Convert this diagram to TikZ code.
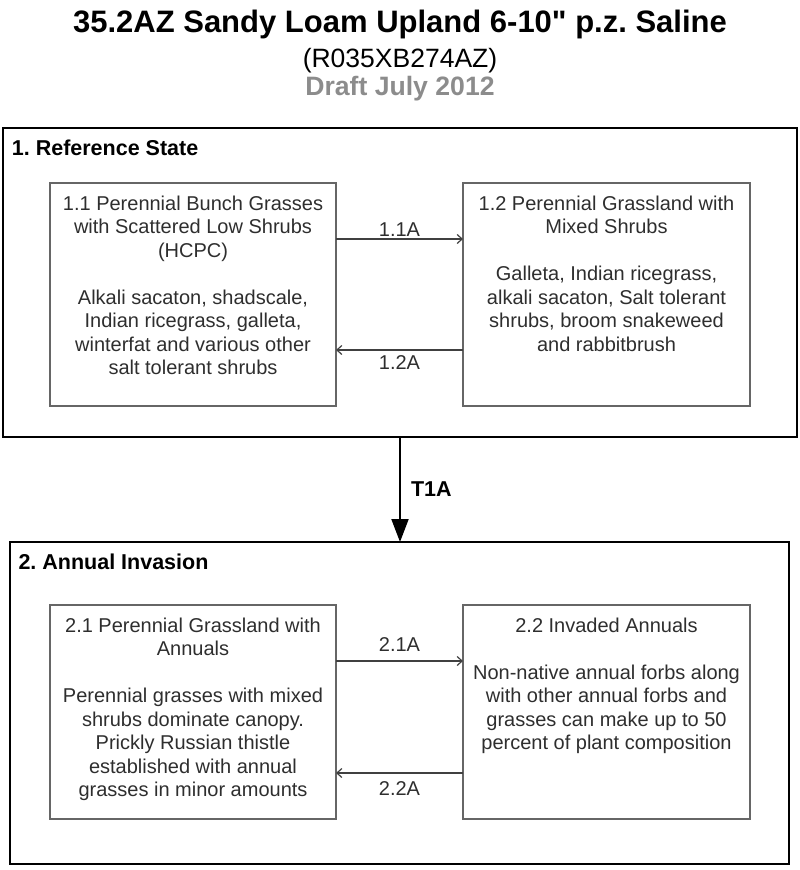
\documentclass[tikz,border=0pt]{standalone}
\usepackage{fontspec}
\setmainfont{Liberation Sans}[Ligatures=TeXOff]
\usetikzlibrary{arrows.meta}
\definecolor{boxgray}{HTML}{666666}
\definecolor{txtgray}{HTML}{2E2E2E}
\definecolor{arrgray}{HTML}{404040}
\definecolor{draftgray}{HTML}{8C8C8C}
\begin{document}
\frenchspacing
\begin{tikzpicture}[x=1pt,y=-1pt,
  outerbox/.style={draw=black,line width=2.5pt,inner sep=0pt,outer sep=0pt},
  innerbox/.style={draw=boxgray,line width=2pt,inner sep=0pt,outer sep=0pt,
    minimum width=286pt},
  boxtext/.style={anchor=north,inner sep=0pt,align=center,text=txtgray,
    font=\fontsize{20}{23.5}\selectfont},
  statelabel/.style={anchor=west,inner sep=0pt,font=\fontsize{21.5}{24}\selectfont\bfseries},
  trans/.style={draw=arrgray,line width=1.5pt,-{Straight Barb[length=5pt,width=9pt,line width=1.2pt]}},
  translabel/.style={inner sep=0pt,text=txtgray,font=\fontsize{20}{23.5}\selectfont},
  bigarrow/.style={draw=black,line width=2pt,-{Triangle[length=23pt,width=17pt]}}
]
\useasboundingbox (0,0) rectangle (800,870);

% titles
\node[anchor=base,inner sep=0pt,font=\fontsize{31}{34}\selectfont\bfseries] (title) at (400,32.3)
  {35.2AZ Sandy Loam Upland 6-10" p.z. Saline};
\node[anchor=base,inner sep=0pt,font=\fontsize{26.5}{29}\selectfont] (code) at (400,67.5)
  {(R035XB274AZ)};
\node[anchor=base,inner sep=0pt,text=draftgray,font=\fontsize{26.6}{29}\selectfont\bfseries] (draft) at (400,95)
  {Draft July 2012};

% state boxes
\node[outerbox,minimum width=794pt,minimum height=309pt] (s1) at (400,282.5) {};
\node[outerbox,minimum width=779pt,minimum height=322pt] (s2) at (399.5,703) {};
\node[statelabel] (s1lab) at ([xshift=8.7pt,yshift=-20pt]s1.north west) {1. Reference State};
\node[statelabel] (s2lab) at ([xshift=8.3pt,yshift=-20pt]s2.north west) {2. Annual Invasion};

% community boxes
\node[innerbox,minimum height=223pt] (b11) at (193,294.5) {};
\node[innerbox,minimum height=223pt,minimum width=287pt] (b12) at (606.5,294.5) {};
\node[innerbox,minimum height=214pt] (b21) at (193,712) {};
\node[innerbox,minimum height=214pt,minimum width=287pt] (b22) at (606.5,712) {};

\node[boxtext] (t11) at ([yshift=-12.5pt]b11.north)
  {1.1 Perennial Bunch Grasses\\with Scattered Low Shrubs\\(HCPC)\\[23.5pt]
   Alkali sacaton, shadscale,\\Indian ricegrass, galleta,\\winterfat and various other\\salt tolerant shrubs};
\node[boxtext] (t12) at ([yshift=-12.5pt]b12.north)
  {1.2 Perennial Grassland with\\Mixed Shrubs\\[23.5pt]
   Galleta, Indian ricegrass,\\alkali sacaton, Salt tolerant\\shrubs, broom snakeweed\\and rabbitbrush};
\node[boxtext] (t21) at ([yshift=-12.5pt]b21.north)
  {2.1 Perennial Grassland with\\Annuals\\[23.5pt]
   Perennial grasses with mixed\\shrubs dominate canopy.\\Prickly Russian thistle\\established with annual\\grasses in minor amounts};
\node[boxtext] (t22) at ([yshift=-12.5pt]b22.north)
  {2.2 Invaded Annuals\\[23.5pt]
   Non-native annual forbs along\\with other annual forbs and\\grasses can make up to 50\\percent of plant composition};

% transitions within states
\draw[trans] ([yshift=-56pt]b11.north east) -- node[translabel,above=2pt] (l11) {1.1A} ([yshift=-56pt]b12.north west);
\draw[trans] ([yshift=-167pt]b12.north west) -- node[translabel,below=5pt] (l12) {1.2A} ([yshift=-167pt]b11.north east);
\draw[trans] ([yshift=-56pt]b21.north east) -- node[translabel,above=9pt] (l21) {2.1A} ([yshift=-56pt]b22.north west);
\draw[trans] ([yshift=-168pt]b22.north west) -- node[translabel,below=8pt] (l22) {2.2A} ([yshift=-168pt]b21.north east);

% state transition
\draw[bigarrow] (s1.south) -- node[right=10pt,inner sep=0pt,font=\fontsize{21.5}{24}\selectfont\bfseries] (t1a) {T1A} (s1.south |- s2.north);
\end{tikzpicture}
\end{document}
